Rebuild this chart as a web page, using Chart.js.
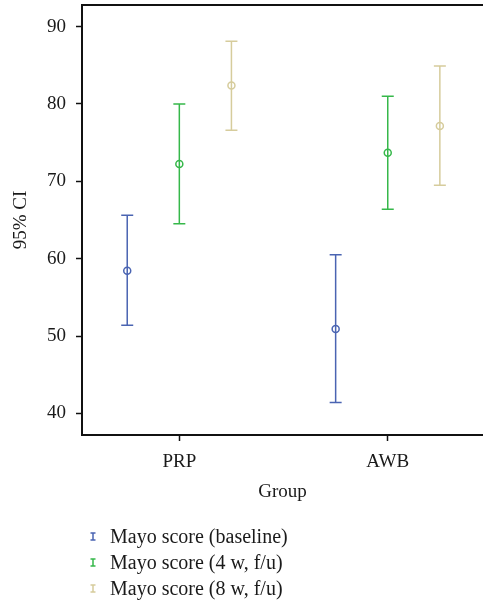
<!DOCTYPE html>
<html>
<head>
<meta charset="utf-8">
<script src="https://cdn.jsdelivr.net/npm/chart.js@4.4.1/dist/chart.umd.min.js"></script>
<style>
  html, body { margin: 0; padding: 0; background: #fff; }
  #wrap { position: relative; width: 483px; height: 604px; }
  #chartBox { position: absolute; left: 0; top: 0; width: 483px; height: 510px; }
  #legend { position: absolute; left: 88px; top: 523px; font-family: "Liberation Serif", "Times New Roman", serif; font-size: 20px; color: #1a1a1a; }
  .item { height: 26px; line-height: 26px; display: flex; align-items: center; }
  .icon { width: 22px; height: 26px; display: inline-block; }
</style>
</head>
<body>
<div id="wrap">
  <div id="chartBox"><canvas id="c" width="483" height="510"></canvas></div>
  <div id="legend"></div>
</div>
<script>
// ---- data ----
const categories = ["PRP", "AWB"];
const seriesNames = ["Mayo score (baseline)", "Mayo score (4 w, f/u)", "Mayo score (8 w, f/u)"];
const seriesColors = ["#4a64b2", "#36b84a", "#d6cc9c"];
const meanBaseline = [58.45, 50.9];
const lowerBaseline = [51.4, 41.4];
const upperBaseline = [65.6, 60.5];
const mean4w = [72.25, 73.7];
const lower4w = [64.5, 66.4];
const upper4w = [80.0, 81.0];
const mean8w = [82.4, 77.15];
const lower8w = [76.6, 69.5];
const upper8w = [88.1, 84.9];
const yTicks = [40, 50, 60, 70, 80, 90];
const seriesOffsets = [-0.25, 0, 0.25];

const means = [meanBaseline, mean4w, mean8w];
const lowers = [lowerBaseline, lower4w, lower8w];
const uppers = [upperBaseline, upper4w, upper8w];

const FONT = "'Liberation Serif', 'Times New Roman', serif";

const datasets = seriesNames.map((name, s) => ({
  label: name,
  data: categories.map((c, i) => ({ x: i + 1 + seriesOffsets[s], y: means[s][i], lo: lowers[s][i], hi: uppers[s][i] })),
  borderColor: seriesColors[s],
  backgroundColor: 'rgba(0,0,0,0)',
  pointRadius: 3.5,
  pointBorderWidth: 1.5,
  pointHoverRadius: 3.5,
  showLine: false
}));

const errorBars = {
  id: 'errorBars',
  beforeDatasetsDraw(chart) {
    const ctx = chart.ctx;
    const xs = chart.scales.x, ys = chart.scales.y;
    chart.data.datasets.forEach(ds => {
      ctx.save();
      ctx.strokeStyle = ds.borderColor;
      ctx.lineWidth = 1.5;
      ds.data.forEach(p => {
        const x = xs.getPixelForValue(p.x);
        const yl = ys.getPixelForValue(p.lo);
        const yh = ys.getPixelForValue(p.hi);
        ctx.beginPath();
        ctx.moveTo(x, yl); ctx.lineTo(x, yh);
        ctx.moveTo(x - 6, yl); ctx.lineTo(x + 6, yl);
        ctx.moveTo(x - 6, yh); ctx.lineTo(x + 6, yh);
        ctx.stroke();
      });
      ctx.restore();
    });
  },
  afterDraw(chart) {
    const ctx = chart.ctx, a = chart.chartArea;
    ctx.save();
    ctx.strokeStyle = '#111';
    ctx.lineWidth = 2;
    ctx.beginPath();
    ctx.moveTo(a.left - 1, a.top);
    ctx.lineTo(a.right, a.top);
    ctx.stroke();
    ctx.restore();
  }
};

new Chart(document.getElementById('c'), {
  type: 'scatter',
  data: { datasets },
  options: {
    responsive: false,
    animation: false,
    layout: { autoPadding: false, padding: { top: 5, right: 0, bottom: 0, left: 0 } },
    plugins: { legend: { display: false }, tooltip: { enabled: false } },
    scales: {
      x: {
        type: 'linear',
        min: 0.533,
        max: 2.457,
        afterBuildTicks(scale) { scale.ticks = categories.map((c, i) => ({ value: i + 1 })); },
        afterFit(scale) { scale.height = 75; scale.paddingLeft = 0; scale.paddingRight = 0; },
        ticks: {
          callback: (v) => categories[v - 1] ?? '',
          color: '#1a1a1a',
          font: { family: FONT, size: 19 },
          padding: 10,
          maxRotation: 0
        },
        grid: { drawOnChartArea: false, tickLength: 6, color: '#111', tickWidth: 1.5 },
        border: { color: '#111', width: 2 },
        title: { display: true, text: 'Group', color: '#1a1a1a', font: { family: FONT, size: 19 }, padding: { top: 4, bottom: 7 } }
      },
      y: {
        min: 37.2,
        max: 92.8,
        afterBuildTicks(scale) { scale.ticks = yTicks.map(v => ({ value: v })); },
        afterFit(scale) { scale.width = 82; scale.paddingTop = 0; scale.paddingBottom = 0; },
        ticks: {
          color: '#1a1a1a',
          font: { family: FONT, size: 19 },
          padding: 10
        },
        grid: { drawOnChartArea: false, tickLength: 6, color: '#111', tickWidth: 1.5 },
        border: { color: '#111', width: 2 },
        title: { display: true, text: '95% CI', color: '#1a1a1a', font: { family: FONT, size: 19 }, padding: { top: 10, bottom: 0 } }
      }
    }
  },
  plugins: [errorBars]
});

// HTML legend
const legend = document.getElementById('legend');
seriesNames.forEach((name, s) => {
  const item = document.createElement('div');
  item.className = 'item';
  const cv = document.createElement('canvas');
  cv.width = 22; cv.height = 26; cv.className = 'icon';
  const g = cv.getContext('2d');
  g.strokeStyle = seriesColors[s]; g.lineWidth = 1.5;
  g.beginPath();
  g.moveTo(5, 10); g.lineTo(5, 17);
  g.moveTo(2.5, 10); g.lineTo(7.5, 10);
  g.moveTo(2.5, 17); g.lineTo(7.5, 17);
  g.stroke();
  item.appendChild(cv);
  const t = document.createElement('span');
  t.textContent = name;
  item.appendChild(t);
  legend.appendChild(item);
});
</script>
</body>
</html>
